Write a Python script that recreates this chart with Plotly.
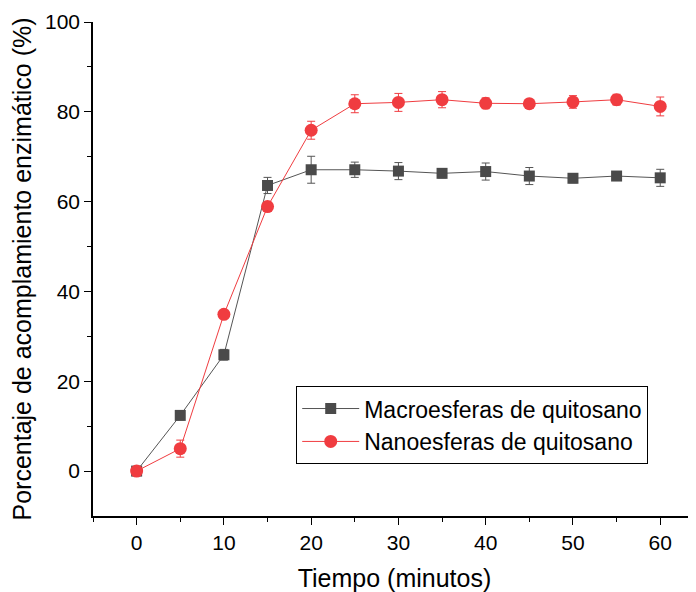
import plotly.graph_objects as go

time = [0, 5, 10, 15, 20, 25, 30, 35, 40, 45, 50, 55, 60]
macro = [0, 12.4, 25.9, 63.6, 67.1, 67.1, 66.8, 66.3, 66.7, 65.7, 65.2, 65.7, 65.3]
macro_err = [0.5, 1.0, 1.2, 1.8, 3.0, 1.7, 1.9, 1.0, 1.9, 1.9, 1.0, 1.0, 1.9]
nano = [0, 5.0, 34.9, 58.9, 75.9, 81.8, 82.1, 82.7, 81.9, 81.8, 82.2, 82.7, 81.2]
nano_err = [0.5, 1.9, 0.8, 1.0, 2.0, 2.0, 2.0, 1.8, 1.2, 1.0, 1.4, 1.2, 2.1]

FONT = "Arial, Liberation Sans, sans-serif"
GRAY = "#4a4a4a"
RED = "#f03c40"

fig = go.Figure()
fig.add_trace(go.Scatter(
    x=time, y=macro, name="Macroesferas de quitosano", mode="lines+markers",
    line=dict(color="#555555", width=1),
    marker=dict(symbol="square", size=11, color=GRAY),
    error_y=dict(type="data", array=macro_err, color="#555555", thickness=1, width=4),
))
fig.add_trace(go.Scatter(
    x=time, y=nano, name="Nanoesferas de quitosano", mode="lines+markers",
    line=dict(color=RED, width=1),
    marker=dict(symbol="circle", size=13, color=RED),
    error_y=dict(type="data", array=nano_err, color=RED, thickness=1, width=4),
))

fig.update_layout(
    width=688, height=584,
    margin=dict(l=85, r=0, t=14, b=76),
    paper_bgcolor="white", plot_bgcolor="white",
    font=dict(family=FONT, size=21, color="black"),
    legend=dict(
        x=0.337, y=0.263, xanchor="left", yanchor="top",
        bordercolor="black", borderwidth=1, bgcolor="white",
        font=dict(family=FONT, size=23, color="black"),
        tracegroupgap=0, itemwidth=57,
    ),
    showlegend=True,
)
fig.update_xaxes(
    range=[-5, 64.1], tickmode="array", tickvals=[0, 10, 20, 30, 40, 50, 60],
    ticks="outside", ticklen=7, tickwidth=1, tickcolor="black",
    minor=dict(tickmode="array", tickvals=[-5, 5, 15, 25, 35, 45, 55], ticks="outside", ticklen=4, tickwidth=1, tickcolor="black"),
    showline=True, linecolor="black", linewidth=1.5, showgrid=False, zeroline=False,
    title=dict(text="Tiempo (minutos)", font=dict(family=FONT, size=25), standoff=18),
    tickfont=dict(family=FONT, size=21), automargin=False,
)
fig.update_yaxes(
    range=[-10, 100], tickmode="array", tickvals=[0, 20, 40, 60, 80, 100],
    ticks="outside", ticklen=7, tickwidth=1, tickcolor="black",
    minor=dict(tickmode="array", tickvals=[10, 30, 50, 70, 90], ticks="outside", ticklen=4, tickwidth=1, tickcolor="black"),
    showline=True, linecolor="black", linewidth=1.5, showgrid=False, zeroline=False,
    title=dict(text="Porcentaje de acomplamiento enzimático (%)", font=dict(family=FONT, size=25), standoff=8),
    tickfont=dict(family=FONT, size=21), automargin=False,
)

fig.write_html("out.html")
